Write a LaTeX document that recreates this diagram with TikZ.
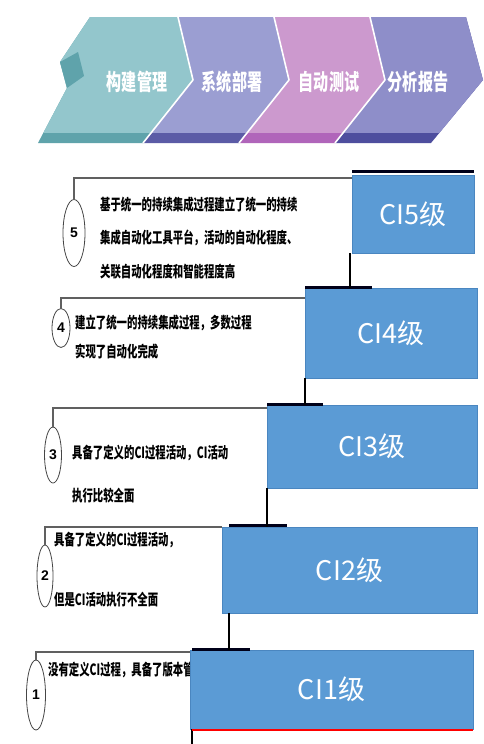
\documentclass[tikz,border=0pt]{standalone}
\usepackage{fontspec}
\usetikzlibrary{shapes.geometric}
\newfontfamily\cjk{Noto Sans CJK SC}
\newfontfamily\cjkc[FakeStretch=0.67]{Noto Sans CJK SC}
\newfontfamily\numfont{Liberation Sans}
\definecolor{boxblue}{HTML}{5B9BD5}
\definecolor{boxedge}{HTML}{4A86C0}
\definecolor{tealA}{HTML}{93C6CC}
\definecolor{tealB}{HTML}{5FA3AB}
\definecolor{purA}{HTML}{9B9ED2}
\definecolor{purB}{HTML}{5B5BA6}
\definecolor{magA}{HTML}{CC99CE}
\definecolor{magB}{HTML}{B065BA}
\definecolor{bluA}{HTML}{8E8EC9}
\definecolor{bluB}{HTML}{4E4E9E}
\tikzset{
  cibox/.style={draw=boxedge, line width=0.6pt, fill=boxblue, text=white, anchor=north west,
    inner sep=0pt, outer sep=0pt, font=\cjk\fontsize{27}{29}\selectfont},
  numel/.style={ellipse, draw=gray!55!black, line width=0.8pt, inner sep=0pt, outer sep=0pt,
    font=\numfont\bfseries\fontsize{14}{15}\selectfont},
  steptxt/.style={anchor=west, inner sep=0pt, font=\cjkc\bfseries\fontsize{15.5}{17}\selectfont},
  bantxt/.style={text=white, inner sep=0pt, font=\cjkc\bfseries\fontsize{22.5}{24}\selectfont},
  grayline/.style={draw=gray!75!black, line width=1.2pt},
  conn/.style={draw=black, line width=1.6pt},
  topbar/.style={draw=black!90!blue, line width=3pt},
  sep/.style={draw=white, line width=1.6pt, line join=round}
}
\begin{document}
\begin{tikzpicture}[x=1pt,y=-1pt]
\useasboundingbox (0,0) rectangle (483,744);
\fill[white] (0,0) rectangle (483,744);

% ---- banner chevrons ----
\begin{scope}
\clip (0,0) rectangle (483,744);
% chevron 1
\fill[tealB] (90,17) -- (178,17) -- (193,80) -- (143,143) -- (38,143) -- (67,88) -- (60,62) -- cycle;
\begin{scope}\clip (0,0) rectangle (483,132);
\fill[tealA] (90,17) -- (178,17) -- (193,80) -- (143,143) -- (38,143) -- (67,88) -- (60,62) -- cycle;
\end{scope}
\fill[tealB] (60,62) -- (78,52) -- (84,76) -- (67,88) -- cycle;
% chevron 2
\fill[purB] (178,17) -- (274,17) -- (289,80) -- (239,143) -- (143,143) -- (193,80) -- cycle;
\begin{scope}\clip (0,0) rectangle (483,132);
\fill[purA] (178,17) -- (274,17) -- (289,80) -- (239,143) -- (143,143) -- (193,80) -- cycle;
\end{scope}
% chevron 3
\fill[magB] (274,17) -- (370,17) -- (385,80) -- (335,143) -- (239,143) -- (289,80) -- cycle;
\begin{scope}\clip (0,0) rectangle (483,132);
\fill[magA] (274,17) -- (370,17) -- (385,80) -- (335,143) -- (239,143) -- (289,80) -- cycle;
\end{scope}
% chevron 4
\fill[bluB] (370,17) -- (466,17) -- (483,80) -- (431,143) -- (335,143) -- (385,80) -- cycle;
\begin{scope}\clip (0,0) rectangle (483,132);
\fill[bluA] (370,17) -- (466,17) -- (483,80) -- (431,143) -- (335,143) -- (385,80) -- cycle;
\end{scope}
\draw[sep] (178,17) -- (193,80) -- (143,143);
\draw[sep] (274,17) -- (289,80) -- (239,143);
\draw[sep] (370,17) -- (385,80) -- (335,143);
\end{scope}
\node[bantxt] (b1) at (137,82) {构建管理};
\node[bantxt] (b2) at (232,82) {系统部署};
\node[bantxt] (b3) at (329,82) {自动测试};
\node[bantxt] (b4) at (418,82) {分析报告};

% ---- step texts ----
\node[steptxt] (t5a) at (100,205) {基于统一的持续集成过程建立了统一的持续};
\node[steptxt] (t5b) at (100,238) {集成自动化工具平台，活动的自动化程度、};
\node[steptxt] (t5c) at (100,272) {关联自动化程度和智能程度高};
\node[steptxt] (t4a) at (75,323) {建立了统一的持续集成过程，多数过程};
\node[steptxt] (t4b) at (75,352) {实现了自动化完成};
\node[steptxt] (t3a) at (72,453) {具备了定义的CI过程活动，CI活动};
\node[steptxt] (t3b) at (72,496) {执行比较全面};
\node[steptxt] (t2a) at (54,540) {具备了定义的CI过程活动，};
\node[steptxt] (t2b) at (54,600) {但是CI活动执行不全面};
\node[steptxt] (t1a) at (48,670) {没有定义CI过程，具备了版本管理};

% ---- ellipses ----
\node[numel, minimum width=22pt, minimum height=67pt] (c5) at (74,233) {5};
\node[numel, minimum width=18pt, minimum height=39pt] (c4) at (61,328) {4};
\node[numel, minimum width=17pt, minimum height=56pt] (c3) at (53,455) {3};
\node[numel, minimum width=16pt, minimum height=62pt] (c2) at (45,576) {2};
\node[numel, minimum width=19pt, minimum height=70pt] (c1) at (36,695) {1};

% ---- gray lines (drawn before boxes) ----
\coordinate (g5) at (352,178);
\coordinate (g4) at (305,298);
\coordinate (g3) at (267,408);
\coordinate (g2) at (222,527);
\coordinate (g1) at (190,652);
\draw[grayline] (c5.north) |- (g5);
\draw[grayline] (c4.north) |- (g4);
\draw[grayline] (c3.north) |- (g3);
\draw[grayline] (c2.north) |- (g2);
\draw[grayline] (c1.north) |- (g1);

% ---- CI boxes ----
\node[cibox, minimum width=122pt, minimum height=78pt] (ci5) at (352,175) {CI5级};
\node[cibox, minimum width=172pt, minimum height=90pt] (ci4) at (305,288) {CI4级};
\node[cibox, minimum width=210pt, minimum height=83pt] (ci3) at (267,405) {CI3级};
\node[cibox, minimum width=255pt, minimum height=86pt] (ci2) at (222,527) {CI2级};
\node[cibox, minimum width=283pt, minimum height=79pt] (ci1) at (190,650) {CI1级};

% ---- top bars ----
\draw[topbar] ([yshift=4pt]ci5.north west) -- ([yshift=4pt]ci5.north east);
\draw[topbar] ([yshift=1pt]ci4.north west) -- ++(67,0);
\draw[topbar] ([yshift=1pt]ci3.north west) -- ++(56,0);
\draw[topbar] ([xshift=7pt,yshift=2pt]ci2.north west) -- ++(58,0);
\draw[topbar] ([xshift=2pt,yshift=1pt]ci1.north west) -- ++(58,0);

% ---- vertical connectors ----
\draw[conn] ([xshift=-2pt]ci5.south west) -- ([xshift=-2pt]ci5.south west |- ci4.north);
\draw[conn] (ci4.south west) -- (ci4.south west |- ci3.north);
\draw[conn] (ci3.south west) -- (ci3.south west |- ci2.north);
\draw[conn] ([xshift=7pt]ci2.south west) -- ([xshift=7pt]ci2.south west |- ci1.north);
\coordinate (bottomend) at (192,744);
\draw[conn] ([xshift=2pt]ci1.south west) -- (bottomend);

% red line under CI1
\draw[red, line width=1.5pt] ([xshift=2pt,yshift=-1pt]ci1.south west) -- ([yshift=-1pt]ci1.south east);
\end{tikzpicture}
\end{document}
